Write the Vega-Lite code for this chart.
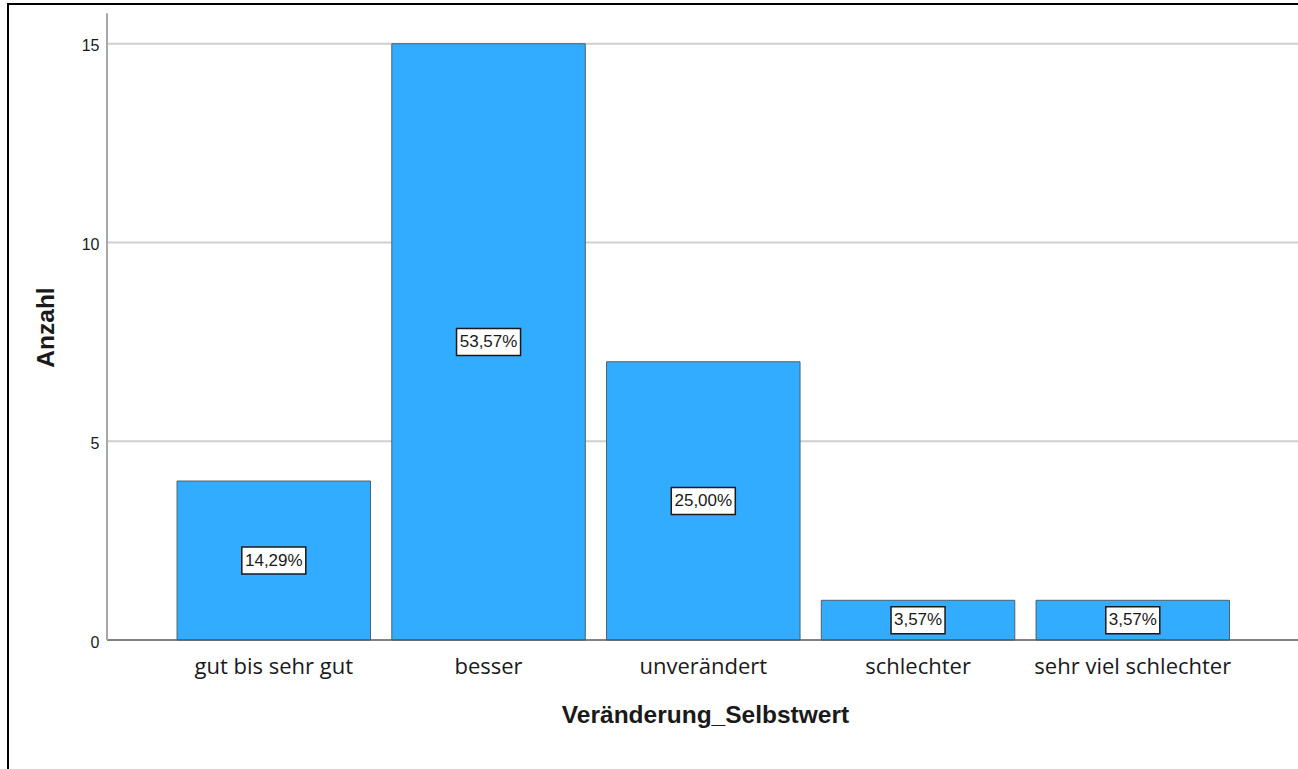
{
  "$schema": "https://vega.github.io/schema/vega-lite/v6.json",
  "width": 1300,
  "height": 775,
  "autosize": {"type": "none"},
  "padding": {"left": 8, "top": 4, "right": -10, "bottom": -10},
  "background": "white",
  "config": {
    "view": {"stroke": "#000000", "strokeWidth": 2},
    "axis": {"labelColor": "#1a1a1a", "titleColor": "#1a1a1a"}
  },
  "data": {
    "values": [
      {"kategorie": "gut bis sehr gut", "anzahl": 4, "prozent": "14,29%"},
      {"kategorie": "besser", "anzahl": 15, "prozent": "53,57%"},
      {"kategorie": "unverändert", "anzahl": 7, "prozent": "25,00%"},
      {"kategorie": "schlechter", "anzahl": 1, "prozent": "3,57%"},
      {"kategorie": "sehr viel schlechter", "anzahl": 1, "prozent": "3,57%"}
    ]
  },
  "layer": [
    {
      "data": {"values": [{"gitter": 5}, {"gitter": 10}, {"gitter": 15}]},
      "mark": {"type": "rule", "color": "#cfcfcf", "strokeWidth": 2},
      "encoding": {
        "y": {"field": "gitter", "type": "quantitative"},
        "x": {"datum": "gut bis sehr gut", "type": "nominal", "bandPosition": -0.362},
        "x2": {"datum": "sehr viel schlechter", "bandPosition": 1.4}
      }
    },
    {
      "mark": {"type": "bar", "fill": "#32acfe", "stroke": "#4d5f6e", "strokeWidth": 1},
      "encoding": {
        "x": {
          "field": "kategorie",
          "type": "nominal",
          "scale": {
            "domain": ["gut bis sehr gut", "besser", "unverändert", "schlechter", "sehr viel schlechter"],
            "paddingInner": 0.099,
            "paddingOuter": 0.5763,
            "align": 0.683
          },
          "axis": {
            "title": "Veränderung_Selbstwert",
            "titleFont": "Liberation Sans",
            "titleFontSize": 24.5,
            "titleFontWeight": "bold",
            "titleX": 697,
            "titleY": 82,
            "titleAlign": "center",
            "titleBaseline": "alphabetic",
            "labelFont": "Open Sans",
            "labelFontSize": 22,
            "labelAngle": 0,
            "labelAlign": "center",
            "labelLimit": 0,
            "labelBaseline": "alphabetic",
            "labelPadding": 33,
            "ticks": false,
            "domain": false,
            "grid": false,
            "offset": -139
          }
        },
        "y": {
          "field": "anzahl",
          "type": "quantitative",
          "scale": {"domain": [-3.495, 16], "nice": false, "zero": false},
          "axis": {
            "title": "Anzahl",
            "titleFont": "Liberation Sans",
            "titleFontSize": 24.5,
            "titleFontWeight": "bold",
            "titleX": -61,
            "titleY": 323,
            "titleAngle": 270,
            "titleAlign": "center",
            "titleBaseline": "middle",
            "values": [0, 5, 10, 15],
            "labelFont": "Liberation Sans",
            "labelFontSize": 16,
            "labelPadding": 8,
            "labelOffset": 2,
            "ticks": false,
            "domain": false,
            "grid": false,
            "offset": -99
          }
        },
        "y2": {"datum": 0}
      }
    },
    {
      "data": {"values": [{"linie": "x-Achse"}]},
      "mark": {"type": "rule", "color": "#5a5a5a", "strokeWidth": 1.5},
      "encoding": {
        "y": {"datum": 0, "type": "quantitative"},
        "x": {"datum": "gut bis sehr gut", "type": "nominal", "bandPosition": -0.362},
        "x2": {"datum": "sehr viel schlechter", "bandPosition": 1.4}
      }
    },
    {
      "data": {"values": [{"linie": "y-Achse"}]},
      "mark": {"type": "rule", "color": "#a8a8a8", "strokeWidth": 2},
      "encoding": {
        "x": {"datum": "gut bis sehr gut", "type": "nominal", "bandPosition": -0.362},
        "y": {"datum": 0, "type": "quantitative"},
        "y2": {"datum": 15.77}
      }
    },
    {
      "transform": [{"calculate": "datum.anzahl / 2", "as": "mitte"}],
      "layer": [
        {
          "mark": {"type": "point", "filled": true, "fill": "white", "stroke": "#1a1a1a", "strokeWidth": 1.5, "opacity": 1},
          "encoding": {
            "x": {"field": "kategorie", "type": "nominal"},
            "y": {"field": "mitte", "type": "quantitative"},
            "shape": {
              "condition": {"test": "length(datum.prozent) > 5", "value": "M-1,-0.422L1,-0.422L1,0.422L-1,0.422Z"},
              "value": "M-1,-0.5L1,-0.5L1,0.5L-1,0.5Z"
            },
            "size": {
              "condition": {"test": "length(datum.prozent) > 5", "value": 4096},
              "value": 2916
            }
          }
        },
        {
          "mark": {"type": "text", "font": "Liberation Sans", "fontSize": 17, "color": "#1a1a1a", "baseline": "middle", "align": "center"},
          "encoding": {
            "x": {"field": "kategorie", "type": "nominal"},
            "y": {"field": "mitte", "type": "quantitative"},
            "text": {"field": "prozent", "type": "nominal"}
          }
        }
      ]
    }
  ]
}
